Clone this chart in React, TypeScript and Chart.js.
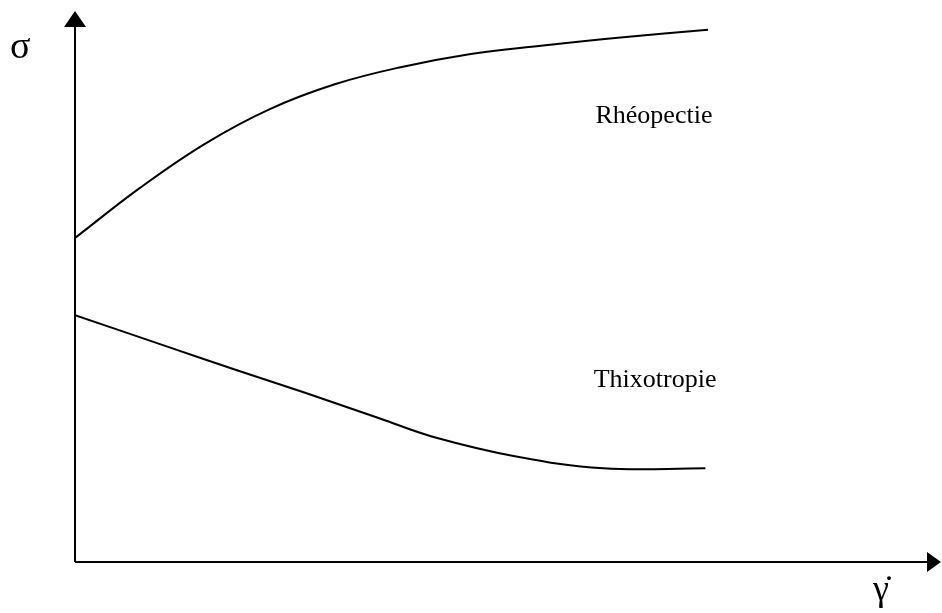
import { useEffect, useRef } from "react";
import { Chart, registerables } from "chart.js";

Chart.register(...registerables);

// Shear rate (arbitrary units) and stress (arbitrary units)
const rheoX = [0, 0.75, 1.5, 2.25, 3.0, 3.76, 4.57, 5.38, 6.3, 7.31];
const rheoY = [5.88, 6.79, 7.59, 8.22, 8.67, 8.98, 9.22, 9.37, 9.52, 9.66];
const thixoX = [0, 1.1, 1.87, 2.64, 3.53, 4.14, 5.11, 6.1, 7.28];
const thixoY = [4.48, 3.89, 3.48, 3.08, 2.6, 2.27, 1.91, 1.7, 1.7];

const seriesNames = ["Rhéopectie", "Thixotropie"];
const yAxisLabel = "σ";
const xAxisLabel = "γ̇";

// label anchors in data units
const labelX = [6.01, 5.99];
const labelY = [7.97, 3.18];

const FONT = "'Liberation Serif', 'Times New Roman', serif";

const axesPlugin = {
  id: "sketchAxes",
  afterDraw(chart: any) {
    const ctx = chart.ctx as CanvasRenderingContext2D;
    const { left, right, top, bottom } = chart.chartArea;
    const xs = chart.scales.x;
    const ys = chart.scales.y;
    ctx.save();
    ctx.strokeStyle = "#000";
    ctx.fillStyle = "#000";
    ctx.lineWidth = 2;
    // y axis
    ctx.beginPath();
    ctx.moveTo(left, bottom);
    ctx.lineTo(left, top + 14);
    ctx.stroke();
    ctx.beginPath();
    ctx.moveTo(left, top);
    ctx.lineTo(left - 11, top + 16);
    ctx.lineTo(left + 11, top + 16);
    ctx.closePath();
    ctx.fill();
    // x axis
    ctx.beginPath();
    ctx.moveTo(left, bottom);
    ctx.lineTo(right - 12, bottom);
    ctx.stroke();
    ctx.beginPath();
    ctx.moveTo(right, bottom);
    ctx.lineTo(right - 14, bottom - 10);
    ctx.lineTo(right - 14, bottom + 10);
    ctx.closePath();
    ctx.fill();

    // series labels
    ctx.font = `26px ${FONT}`;
    ctx.textAlign = "left";
    ctx.textBaseline = "alphabetic";
    seriesNames.forEach((name, i) => {
      ctx.fillText(name, xs.getPixelForValue(labelX[i]), ys.getPixelForValue(labelY[i]));
    });

    // axis labels
    ctx.font = `38px ${FONT}`;
    ctx.textAlign = "left";
    ctx.fillText(yAxisLabel, left - 65, top + 47);
    ctx.textAlign = "center";
    ctx.font = `36px ${FONT}`;
    ctx.fillText(xAxisLabel, right - 60, bottom + 38);
    ctx.restore();
  },
};

export default function App() {
  const ref = useRef<HTMLCanvasElement | null>(null);
  useEffect(() => {
    if (!ref.current) return;
    const chart = new Chart(ref.current, {
      type: "line",
      data: {
        datasets: [
          {
            label: seriesNames[0],
            data: rheoX.map((x, i) => ({ x, y: rheoY[i] })),
            borderColor: "#000",
            borderWidth: 2,
            pointRadius: 0,
            tension: 0.4,
            fill: false,
          },
          {
            label: seriesNames[1],
            data: thixoX.map((x, i) => ({ x, y: thixoY[i] })),
            borderColor: "#000",
            borderWidth: 2,
            pointRadius: 0,
            tension: 0.4,
            fill: false,
          },
        ],
      },
      options: {
        responsive: false,
        animation: false,
        devicePixelRatio: 1,
        layout: { padding: { left: 75, right: 1, top: 11, bottom: 51 } },
        plugins: { legend: { display: false }, tooltip: { enabled: false } },
        scales: {
          x: { type: "linear", min: 0, max: 10, display: false },
          y: { type: "linear", min: 0, max: 10, display: false },
        },
      },
      plugins: [axesPlugin],
    });
    return () => chart.destroy();
  }, []);
  return (
    <div style={{ position: "fixed", left: 0, top: 0, width: 942, height: 613, background: "#fff" }}>
      <canvas ref={ref} width={942} height={613} />
    </div>
  );
}
